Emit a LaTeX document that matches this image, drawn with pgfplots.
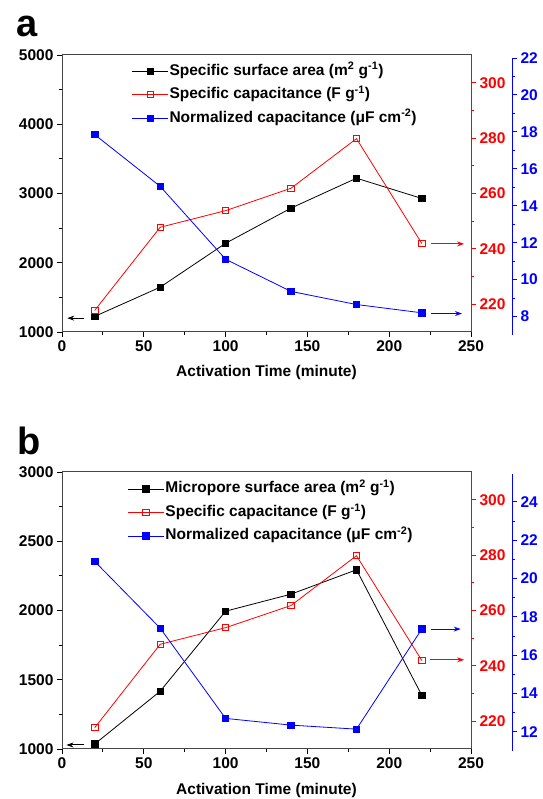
\documentclass[border=0pt]{standalone}
\usepackage{fontspec}
\setmainfont{Liberation Sans}
\usepackage{pgfplots}
\pgfplotsset{compat=1.18}
\usetikzlibrary{arrows.meta}
\definecolor{myred}{RGB}{255,0,0}
\definecolor{myblue}{RGB}{0,0,255}
\definecolor{axgray}{RGB}{70,70,70}
\newcommand{\tfont}{\bfseries\fontsize{15.5}{18}\selectfont}
\tikzset{arr/.style={line width=1pt, -{Stealth[length=7pt,width=5pt]}}}
\pgfplotsset{
  common/.style={
    scale only axis, width=409pt, height=277pt,
    xmin=0, xmax=250,
    /pgf/number format/assume math mode=true,
    /pgf/number format/1000 sep={},
    scaled ticks=false,
    tick align=outside,
    major tick length=5pt, minor tick length=3pt,
    ticklabel style={font=\tfont},
    every tick/.style={line width=0.9pt},
    clip=false,
  },
  blackS/.style={black, line width=0.8pt, mark=square*, mark size=3.2pt, mark options={solid, fill=black}},
  redS/.style={myred, line width=0.8pt, mark=square, mark size=3.2pt, mark options={solid, fill=white}},
  blueS/.style={myblue, line width=0.8pt, mark=square*, mark size=3.2pt, mark options={solid, fill=myblue}},
}
\begin{document}
\begin{tikzpicture}
\useasboundingbox (0,0) rectangle (542pt,799pt);
% ================= Panel a =================
\node[font=\bfseries\fontsize{38}{40}\selectfont, inner sep=0pt, anchor=base west] at (16pt,762pt) {a};
\begin{axis}[common, at={(62pt,467pt)}, anchor=south west,
  ymin=1000, ymax=5000, ytick={1000,2000,...,5000}, minor y tick num=1,
  xtick={0,50,...,250}, minor x tick num=1,
  xtick pos=bottom, ytick pos=left,
  axis line style={axgray, line width=1pt},
  xlabel={Activation Time (minute)},
  xlabel style={font=\tfont, at={(axis description cs:0.5,-0.148)}, anchor=center},
  legend style={at={(rel axis cs:0.17,0.975)}, anchor=north west, draw=none, fill=none,
    font=\tfont, inner sep=0pt, row sep=5.5pt,
    nodes={inner sep=1pt, text height=12pt, text depth=4pt}},
  legend cell align=left,
  legend image code/.code={\draw[mark repeat=2,mark phase=2,#1] plot coordinates {(0pt,0pt) (18pt,0pt) (36pt,0pt)};},
]
\addplot[blackS] coordinates {(20,1225) (60,1647) (100,2281) (140,2789) (180,3221) (220,2928)};
\addlegendentry{Specific surface area (m\textsuperscript{2} g\textsuperscript{-1})}
\addlegendimage{redS}
\addlegendentry{Specific capacitance (F g\textsuperscript{-1})}
\addlegendimage{blueS}
\addlegendentry{Normalized capacitance (μF cm\textsuperscript{-2})}
\draw[arr, black] (axis cs:13.7,1200) -- (axis cs:3.2,1200);
\end{axis}
\begin{axis}[common, at={(62pt,467pt)}, anchor=south west,
  axis x line=none, axis y line*=right,
  ymin=210, ymax=310, ytick={220,240,...,300}, minor y tick num=1,
  y axis line style={myred, line width=1pt},
  yticklabel style={myred}, major tick style={myred}, minor tick style={myred},
]
\addplot[redS] coordinates {(20,217.8) (60,247.8) (100,253.8) (140,261.9) (180,279.8) (220,241.9)};
\draw[arr, myred] (axis cs:225.7,241.8) -- (axis cs:245.8,241.8);
\end{axis}
\begin{axis}[common, at={(62pt,464pt)}, anchor=south west, hide axis,
  ymin=7, ymax=22]
\addplot[blueS] coordinates {(20,17.85) (60,15.05) (100,11.10) (140,9.36) (180,8.65) (220,8.20)};
\draw[arr, myblue] (axis cs:225.7,8.16) -- (axis cs:244.5,8.16);
\end{axis}
\begin{axis}[common, at={(103pt,464pt)}, anchor=south west,
  axis x line=none, axis y line*=right,
  ymin=7, ymax=22, ytick={8,10,...,22}, minor y tick num=1,
  y axis line style={myblue, line width=1pt},
  yticklabel style={myblue}, major tick style={myblue}, minor tick style={myblue},
]
\end{axis}
% ================= Panel b =================
\node[font=\bfseries\fontsize{38}{40}\selectfont, inner sep=0pt, anchor=base west] at (17pt,344pt) {b};
\begin{axis}[common, at={(62pt,50pt)}, anchor=south west,
  ymin=1000, ymax=3000, ytick={1000,1500,...,3000}, minor y tick num=1,
  xtick={0,50,...,250}, minor x tick num=1,
  xtick pos=bottom, ytick pos=left,
  axis line style={axgray, line width=1pt},
  xlabel={Activation Time (minute)},
  xlabel style={font=\tfont, at={(axis description cs:0.5,-0.148)}, anchor=center},
  legend style={at={(rel axis cs:0.16,0.972)}, anchor=north west, draw=none, fill=none,
    font=\tfont, inner sep=0pt, row sep=5.5pt,
    nodes={inner sep=1pt, text height=12pt, text depth=4pt}},
  legend cell align=left,
  legend image code/.code={\draw[mark repeat=2,mark phase=2,#1] plot coordinates {(0pt,0pt) (18pt,0pt) (36pt,0pt)};},
]
\addplot[blackS] coordinates {(20,1036) (60,1417) (100,1995) (140,2118) (180,2294) (220,1386)};
\addlegendentry{Micropore surface area (m\textsuperscript{2} g\textsuperscript{-1})}
\addlegendimage{redS}
\addlegendentry{Specific capacitance (F g\textsuperscript{-1})}
\addlegendimage{blueS}
\addlegendentry{Normalized capacitance (μF cm\textsuperscript{-2})}
\draw[arr, black] (axis cs:13.7,1029) -- (axis cs:2.7,1029);
\end{axis}
\begin{axis}[common, at={(62pt,50pt)}, anchor=south west,
  axis x line=none, axis y line*=right,
  ymin=210, ymax=310, ytick={220,240,...,300}, minor y tick num=1,
  y axis line style={myred, line width=1pt},
  yticklabel style={myred}, major tick style={myred}, minor tick style={myred},
]
\addplot[redS] coordinates {(20,217.7) (60,247.8) (100,253.8) (140,261.8) (180,279.8) (220,241.9)};
\draw[arr, myred] (axis cs:224.7,242.2) -- (axis cs:245.8,242.2);
\end{axis}
\begin{axis}[common, at={(62pt,48pt)}, anchor=south west, hide axis,
  ymin=11, ymax=25.45]
\addplot[blueS] coordinates {(20,20.89) (60,17.41) (100,12.70) (140,12.35) (180,12.14) (220,17.37)};
\draw[arr, myblue] (axis cs:225.7,17.36) -- (axis cs:243.7,17.36);
\end{axis}
\begin{axis}[common, at={(103pt,48pt)}, anchor=south west,
  axis x line=none, axis y line*=right,
  ymin=11, ymax=25.45, ytick={12,14,...,24}, minor y tick num=1,
  y axis line style={myblue, line width=1pt},
  yticklabel style={myblue}, major tick style={myblue}, minor tick style={myblue},
]
\end{axis}
\end{tikzpicture}
\end{document}
